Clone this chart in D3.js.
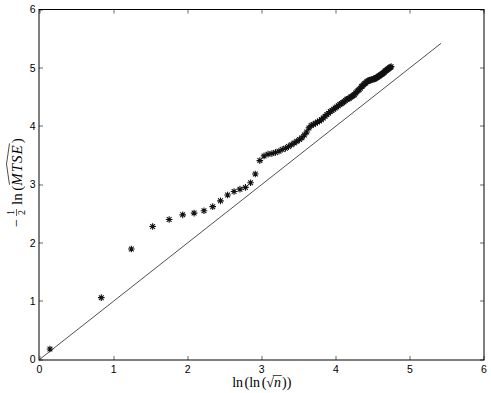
<!DOCTYPE html>
<html>
<head>
<meta charset="utf-8">
<script src="https://cdn.jsdelivr.net/npm/d3@7"></script>
<style>
  body { margin: 0; background: #fff; }
  text { font-family: "Liberation Sans", Arial, sans-serif; }
  text.tex { font-family: "Liberation Serif", "DejaVu Serif", serif; }
</style>
</head>
<body>
<div id="container"></div>
<script>
// data
var xVals = [0.141, 0.834, 1.240, 1.527, 1.750, 1.933, 2.087, 2.220, 2.338, 2.443,
  2.539, 2.626, 2.706, 2.780, 2.849, 2.913, 2.974, 3.031, 3.085, 3.137,
  3.185, 3.232, 3.276, 3.319, 3.360, 3.399, 3.437, 3.473, 3.508, 3.542,
  3.575, 3.607, 3.637, 3.667, 3.696, 3.724, 3.752, 3.779, 3.805, 3.830,
  3.855, 3.879, 3.902, 3.925, 3.948, 3.970, 3.991, 4.012, 4.033, 4.053,
  4.073, 4.092, 4.111, 4.130, 4.148, 4.166, 4.184, 4.201, 4.218, 4.235,
  4.252, 4.268, 4.284, 4.300, 4.315, 4.331, 4.346, 4.360, 4.375, 4.389,
  4.404, 4.418, 4.431, 4.445, 4.458, 4.472, 4.485, 4.498, 4.510, 4.523,
  4.535, 4.548, 4.560, 4.572, 4.584, 4.595, 4.607, 4.618, 4.630, 4.641,
  4.652, 4.663, 4.674, 4.684, 4.695, 4.705, 4.716, 4.726, 4.736, 4.746];
var yVals = [0.18, 1.06, 1.895, 2.28, 2.40, 2.48, 2.51, 2.55, 2.62, 2.72,
  2.82, 2.88, 2.92, 2.95, 3.03, 3.18, 3.41, 3.49, 3.52, 3.53,
  3.55, 3.57, 3.60, 3.62, 3.65, 3.68, 3.71, 3.74, 3.77, 3.80,
  3.85, 3.90, 3.97, 4.01, 4.03, 4.05, 4.07, 4.09, 4.11, 4.14,
  4.17, 4.20, 4.22, 4.25, 4.27, 4.29, 4.31, 4.33, 4.35, 4.37,
  4.39, 4.40, 4.42, 4.44, 4.46, 4.47, 4.48, 4.50, 4.51, 4.53,
  4.54, 4.57, 4.59, 4.61, 4.63, 4.65, 4.68, 4.69, 4.71, 4.73,
  4.74, 4.76, 4.77, 4.78, 4.79, 4.79, 4.80, 4.80, 4.81, 4.81,
  4.82, 4.83, 4.84, 4.85, 4.86, 4.87, 4.88, 4.89, 4.90, 4.91,
  4.92, 4.94, 4.95, 4.96, 4.97, 4.98, 4.99, 5.00, 5.01, 5.02];
// reference line y = x
var lineX = [0, 5.42];
var lineY = [0, 5.42];
var xTicks = [0, 1, 2, 3, 4, 5, 6];
var yTicks = [0, 1, 2, 3, 4, 5, 6];

var width = 491, height = 393;
var svg = d3.select("div#container")
  .append("svg")
  .attr("width", width)
  .attr("height", height);

var x = d3.scaleLinear().domain([0, 6]).range([39.5, 484]);
var y = d3.scaleLinear().domain([0, 6]).range([359.5, 9.5]);

// axes box (matlab style, ticks inside)
var axColor = "#000";
svg.append("rect")
  .attr("x", 39).attr("y", 9.5)
  .attr("width", 445).attr("height", 350.5)
  .attr("fill", "none")
  .attr("stroke", axColor)
  .attr("stroke-width", 1);

var tickLen = 4;
xTicks.forEach(function(t) {
  svg.append("line").attr("x1", Math.round(x(t))).attr("x2", Math.round(x(t)))
    .attr("y1", 360).attr("y2", 360 - tickLen).attr("stroke", axColor).attr("stroke-width", 0.6);
  svg.append("line").attr("x1", Math.round(x(t))).attr("x2", Math.round(x(t)))
    .attr("y1", 9.5).attr("y2", 9.5 + tickLen).attr("stroke", axColor).attr("stroke-width", 0.6);
  svg.append("text")
    .attr("x", x(t)).attr("y", 372.5)
    .attr("text-anchor", "middle")
    .style("font-size", "10.5px")
    .text(t);
});
yTicks.forEach(function(t) {
  svg.append("line").attr("x1", 39).attr("x2", 39 + tickLen)
    .attr("y1", Math.round(y(t))).attr("y2", Math.round(y(t))).attr("stroke", axColor).attr("stroke-width", 0.6);
  svg.append("line").attr("x1", 484).attr("x2", 484 - tickLen)
    .attr("y1", Math.round(y(t))).attr("y2", Math.round(y(t))).attr("stroke", axColor).attr("stroke-width", 0.6);
  svg.append("text")
    .attr("x", 35.5).attr("y", y(t) + 3.8)
    .attr("text-anchor", "end")
    .style("font-size", "10.5px")
    .text(t);
});

// reference line
svg.append("path")
  .datum(d3.zip(lineX, lineY))
  .attr("fill", "none")
  .attr("stroke", "#222")
  .attr("stroke-width", 0.8)
  .attr("d", d3.line().x(function(d) { return x(d[0]); }).y(function(d) { return y(d[1]); }));

// asterisk markers
var r = 3.3, rd = r * 0.72;
var star = "M" + (-r) + ",0L" + r + ",0M0," + (-r) + "L0," + r +
  "M" + (-rd) + "," + (-rd) + "L" + rd + "," + rd +
  "M" + (-rd) + "," + rd + "L" + rd + "," + (-rd);
svg.append("g")
  .selectAll("path")
  .data(d3.zip(xVals, yVals))
  .enter().append("path")
  .attr("transform", function(d) { return "translate(" + x(d[0]) + "," + y(d[1]) + ")"; })
  .attr("d", star)
  .attr("fill", "none")
  .attr("stroke", "#111")
  .attr("stroke-width", 1.1);

// x label: ln(ln(sqrt n))
var xl = svg.append("text")
  .attr("class", "tex")
  .attr("x", x(3)).attr("y", 387)
  .attr("text-anchor", "middle")
  .style("font-size", "14px");
xl.append("tspan").text("ln");
xl.append("tspan").attr("dx", 1.5).text("(ln");
xl.append("tspan").attr("dx", 1.5).text("(");
xl.append("tspan").text("\u221A");
xl.append("tspan").style("font-style", "italic").text("n");
xl.append("tspan").attr("dx", 1).text("))");
// overline for the root
var txt = xl.node();
var start = txt.getStartPositionOfChar(6);
var endN = txt.getEndPositionOfChar(7);
svg.append("line")
  .attr("x1", start.x + 6.5).attr("x2", endN.x + 0.8)
  .attr("y1", 375.5).attr("y2", 375.5)
  .attr("stroke", "#000").attr("stroke-width", 0.7);

// y label: -1/2 ln(MTSE hat), rotated
var yl = svg.append("g")
  .attr("transform", "translate(22,227) rotate(-90)");
yl.append("text").attr("class", "tex").attr("x", 0).attr("y", -1).style("font-size", "14px").text("\u2212");
yl.append("text").attr("class", "tex").attr("x", 14.5).attr("y", -8).attr("text-anchor", "middle").style("font-size", "10px").text("1");
yl.append("line").attr("x1", 11).attr("x2", 18).attr("y1", -5.5).attr("y2", -5.5)
  .attr("stroke", "#000").attr("stroke-width", 0.6);
yl.append("text").attr("class", "tex").attr("x", 14.5).attr("y", 2.5).attr("text-anchor", "middle").style("font-size", "10px").text("2");
var ylt = yl.append("text").attr("class", "tex").attr("x", 22).attr("y", 0).style("font-size", "15px");
ylt.append("tspan").text("ln");
ylt.append("tspan").attr("dx", 2.5).text("(");
ylt.append("tspan").style("font-style", "italic").style("letter-spacing", "1px").text("MTSE");
ylt.append("tspan").attr("dx", 1).text(")");
// wide hat over MTSE
var hs = ylt.node().getStartPositionOfChar(3).x;
var he = ylt.node().getEndPositionOfChar(6).x;
yl.append("path")
  .attr("d", "M" + (hs + 1) + ",-12.5L" + ((hs + he) / 2 + 1) + ",-15.5L" + (he + 1) + ",-12.5")
  .attr("fill", "none")
  .attr("stroke", "#000")
  .attr("stroke-width", 0.7);
</script>
</body>
</html>
